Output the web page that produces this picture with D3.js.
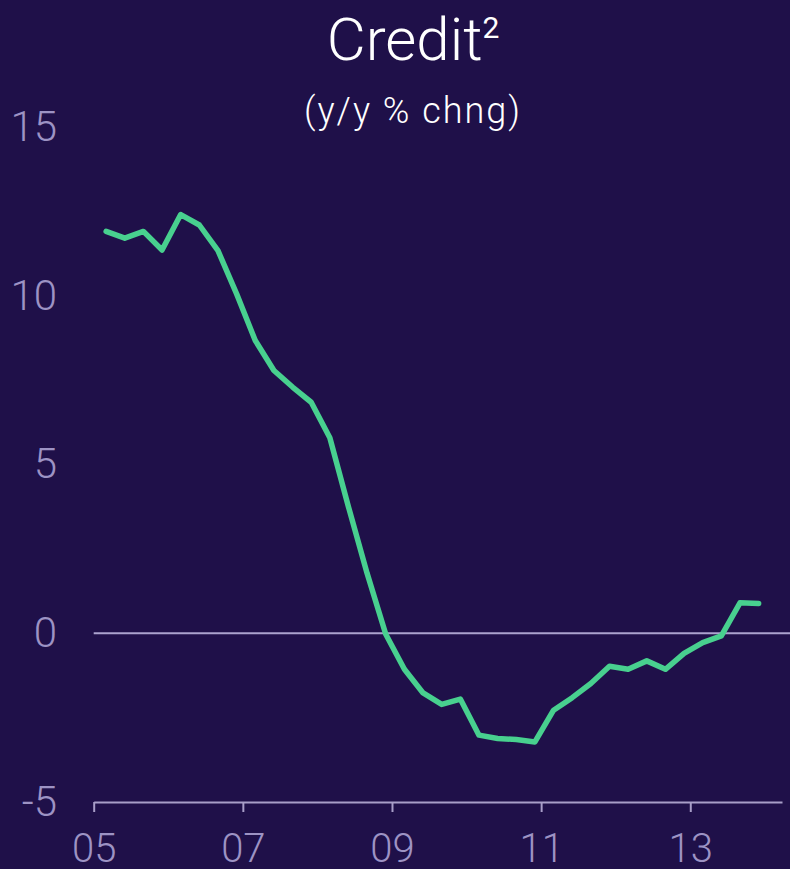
<!DOCTYPE html>
<html>
<head>
<meta charset="utf-8">
<script src="https://cdn.jsdelivr.net/npm/d3@7"></script>
<style>
  html, body { margin: 0; padding: 0; background: #1f1049; }
  svg { display: block; }
  text { font-family: Roboto, 'Open Sans', sans-serif; }
</style>
</head>
<body>
<div class="chart"></div>
<script>
// quarterly readings, y/y % change in credit
const dates = [
  '2005-03','2005-06','2005-09','2005-12',
  '2006-03','2006-06','2006-09','2006-12',
  '2007-03','2007-06','2007-09','2007-12',
  '2008-03','2008-06','2008-09','2008-12',
  '2009-03','2009-06','2009-09','2009-12',
  '2010-03','2010-06','2010-09','2010-12',
  '2011-03','2011-06','2011-09','2011-12',
  '2012-03','2012-06','2012-09','2012-12',
  '2013-03','2013-06','2013-09','2013-12'
]
const credit = [
  11.90, 11.70, 11.90, 11.35,
  12.40, 12.09, 11.33, 10.05,
  8.67, 7.78, 7.29, 6.84,
  5.79, 3.74, 1.77, -0.03,
  -1.07, -1.77, -2.11, -1.95,
  -3.02, -3.12, -3.15, -3.22,
  -2.28, -1.91, -1.49, -0.98,
  -1.07, -0.82, -1.07, -0.60,
  -0.28, -0.08, 0.90, 0.88
]
const yTicks = [-5, 0, 5, 10, 15]
const xTicks = [2005, 2007, 2009, 2011, 2013]

const width = 790
const height = 869

const decYear = s => {
  let [y, m] = s.split('-').map(Number)
  return y + (m - 1) / 12
}

const data = dates.map((d, i) => ({ t: decYear(d), v: credit[i] }))

const svg = d3.select('.chart')
.append('svg')
.attr('width', width)
.attr('height', height)

svg.append('rect')
.attr('width', width)
.attr('height', height)
.attr('fill', '#1f1049')

let x = d3.scaleLinear()
.domain([2005, 2014.23])
.range([93.7, 782])

let y = d3.scaleLinear()
.domain([-5, 15])
.range([802, 126.75])

// titles
let title = svg.append('text')
.attr('x', 413)
.attr('y', 60)
.attr('text-anchor', 'middle')
.attr('fill', '#ffffff')
.style('font-size', '60px')
.style('font-weight', 300)

title.append('tspan').text('Credit')
title.append('tspan')
.attr('dy', -22)
.style('font-size', '30px')
.style('font-weight', 400)
.text('2')

svg.append('text')
.attr('x', 413)
.attr('y', 123)
.attr('text-anchor', 'middle')
.attr('fill', '#ffffff')
.style('font-size', '36px')
.style('font-weight', 300)
.style('letter-spacing', '2px')
.text('(y/y % chng)')

// y axis labels
const yAxis = svg.append('g')
.attr('transform', 'translate(57,0)')
.call(d3.axisLeft(y).tickValues(yTicks).tickSize(0).tickPadding(0).tickFormat(d => String(d)))

yAxis.select('.domain').remove()
yAxis.selectAll('text')
.attr('fill', '#9d93c4')
.style('font-size', '42px')
.style('font-weight', 300)
.style('font-family', 'Roboto, sans-serif')

// zero line
svg.append('line')
.attr('x1', x.range()[0])
.attr('x2', width)
.attr('y1', y(0))
.attr('y2', y(0))
.attr('stroke', '#aca3cf')
.attr('stroke-width', 2)

// x axis
const xAxis = svg.append('g')
.attr('transform', `translate(0,${y(-5)})`)
.call(d3.axisBottom(x)
  .tickValues(xTicks)
  .tickSizeInner(10)
  .tickSizeOuter(0)
  .tickPadding(22)
  .tickFormat(d => String(d).slice(2)))

xAxis.select('.domain')
.attr('stroke', '#a89ec8')
.attr('stroke-width', 2)

xAxis.selectAll('.tick line')
.attr('stroke', '#a89ec8')
.attr('stroke-width', 2)

xAxis.selectAll('text')
.attr('fill', '#9d93c4')
.style('font-size', '40px')
.style('font-weight', 300)
.style('font-family', 'Roboto, sans-serif')

// credit line
let line = d3.line()
.x(d => x(d.t))
.y(d => y(d.v))

svg.append('path')
.datum(data)
.attr('d', line)
.attr('fill', 'none')
.attr('stroke', '#48d08f')
.attr('stroke-width', 5.5)
.attr('stroke-linejoin', 'round')
.attr('stroke-linecap', 'round')
</script>
</body>
</html>
